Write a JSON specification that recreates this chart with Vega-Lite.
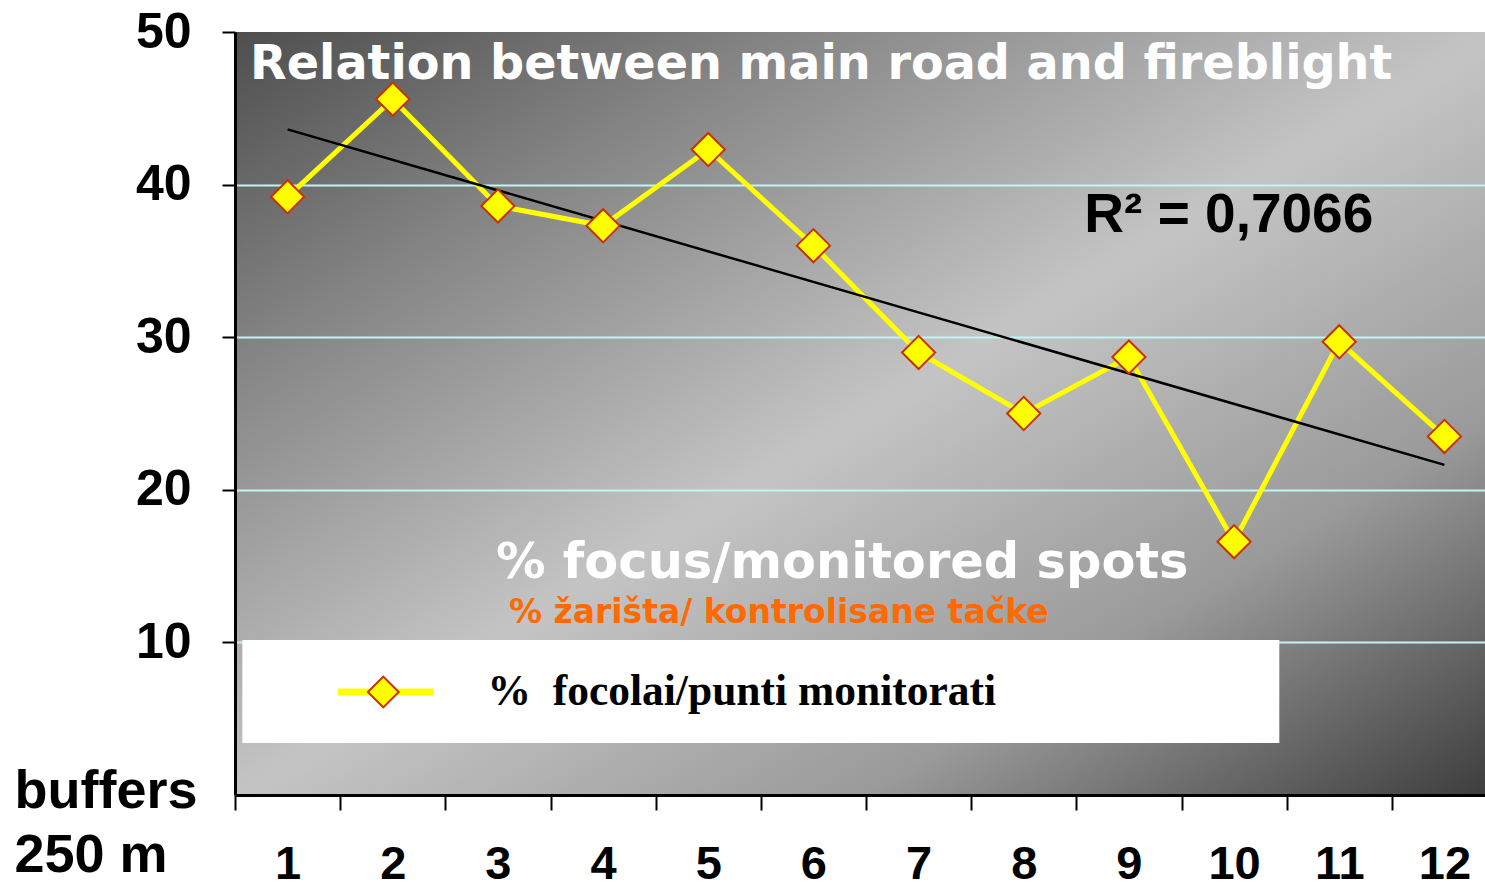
{
  "$schema": "https://vega.github.io/schema/vega-lite/v6.json",
  "width": 1262,
  "height": 763,
  "autosize": {"type": "none"},
  "padding": {"left": 235, "top": 32, "right": 0, "bottom": 93},
  "background": "white",
  "config": {
    "view": {
      "stroke": null,
      "fill": {
        "gradient": "linear",
        "x1": 0, "y1": 0, "x2": 1, "y2": 1,
        "stops": [
          {"offset": 0, "color": "#4e4e4e"},
          {"offset": 0.22, "color": "#858585"},
          {"offset": 0.5, "color": "#c4c4c4"},
          {"offset": 0.75, "color": "#9a9a9a"},
          {"offset": 1, "color": "#3c3c3c"}
        ]
      }
    }
  },
  "data": {
    "values": [
      {"buffer": 1, "pct": 39.2},
      {"buffer": 2, "pct": 45.6},
      {"buffer": 3, "pct": 38.6},
      {"buffer": 4, "pct": 37.3},
      {"buffer": 5, "pct": 42.3},
      {"buffer": 6, "pct": 36.0},
      {"buffer": 7, "pct": 29.0},
      {"buffer": 8, "pct": 25.0},
      {"buffer": 9, "pct": 28.7},
      {"buffer": 10, "pct": 16.6},
      {"buffer": 11, "pct": 29.7},
      {"buffer": 12, "pct": 23.5}
    ]
  },
  "layer": [
    {
      "mark": {"type": "line", "color": "#ffff00", "strokeWidth": 5},
      "encoding": {
        "x": {
          "field": "buffer", "type": "ordinal",
          "scale": {"type": "band", "domain": [1,2,3,4,5,6,7,8,9,10,11,12], "paddingInner": 0, "paddingOuter": 0},
          "axis": {
            "title": ["buffers", "250 m"],
            "titleFont": "Liberation Sans",
            "titleFontSize": 54,
            "titleFontWeight": "bold",
            "titleColor": "black",
            "titleAngle": 0,
            "titleAlign": "left",
            "titleBaseline": "alphabetic",
            "titleX": -221,
            "titleY": 12,
            "titleLineHeight": 64,
            "domainColor": "black",
            "domainWidth": 3,
            "tickBand": "extent",
            "tickSize": 15,
            "tickWidth": 2,
            "tickColor": "black",
            "labelFont": "Liberation Sans",
            "labelFontSize": 47,
            "labelFontWeight": "bold",
            "labelColor": "black",
            "labelAngle": 0,
            "labelPadding": 31
          }
        },
        "y": {
          "field": "pct", "type": "quantitative",
          "scale": {"domain": [0, 50], "nice": false, "zero": true},
          "axis": {
            "title": null,
            "values": [10, 20, 30, 40, 50],
            "domainColor": "black",
            "domainWidth": 3,
            "tickSize": 13,
            "tickWidth": 2,
            "tickColor": "black",
            "labelFont": "Liberation Sans",
            "labelFontSize": 50,
            "labelFontWeight": "bold",
            "labelColor": "black",
            "labelPadding": 31,
            "grid": true,
            "gridWidth": 2,
            "gridColor": {
              "condition": {"test": "datum.value == 0 || datum.value == 50", "value": "transparent"},
              "value": "#c2f4f4"
            }
          }
        }
      }
    },
    {
      "transform": [{"regression": "pct", "on": "buffer"}],
      "mark": {"type": "line", "color": "black", "strokeWidth": 2.5},
      "encoding": {
        "x": {"field": "buffer", "type": "ordinal"},
        "y": {"field": "pct", "type": "quantitative"}
      }
    },
    {
      "mark": {"type": "point", "shape": "diamond", "filled": true, "fill": "#ffff00", "stroke": "#c83200", "strokeWidth": 2, "size": 1100, "opacity": 1},
      "encoding": {
        "x": {"field": "buffer", "type": "ordinal"},
        "y": {"field": "pct", "type": "quantitative"}
      }
    },
    {
      "data": {"values": [{}]},
      "mark": {"type": "text", "text": "Relation between main road and fireblight", "font": "DejaVu Sans", "fontWeight": "bold", "fontSize": 47.7, "color": "white", "align": "left", "baseline": "alphabetic", "dx": 15},
      "encoding": {
        "x": {"datum": 1, "type": "ordinal", "bandPosition": 0},
        "y": {"datum": 46.9, "type": "quantitative"}
      }
    },
    {
      "data": {"values": [{}]},
      "mark": {"type": "text", "text": "R² = 0,7066", "font": "Liberation Sans", "fontWeight": "bold", "fontSize": 55, "color": "black", "align": "left", "baseline": "alphabetic", "dx": 8},
      "encoding": {
        "x": {"datum": 9, "type": "ordinal", "bandPosition": 0},
        "y": {"datum": 36.9, "type": "quantitative"}
      }
    },
    {
      "data": {"values": [{}]},
      "mark": {"type": "text", "text": "% focus/monitored spots", "font": "DejaVu Sans", "fontWeight": "bold", "fontSize": 49.5, "color": "white", "align": "left", "baseline": "alphabetic", "dx": -2},
      "encoding": {
        "x": {"datum": 3, "type": "ordinal"},
        "y": {"datum": 14.2, "type": "quantitative"}
      }
    },
    {
      "data": {"values": [{}]},
      "mark": {"type": "text", "text": "% žarišta/ kontrolisane tačke", "font": "DejaVu Sans", "fontWeight": "bold", "fontSize": 33, "color": "#ff6a00", "align": "left", "baseline": "alphabetic", "dx": 11},
      "encoding": {
        "x": {"datum": 3, "type": "ordinal"},
        "y": {"datum": 11.27, "type": "quantitative"}
      }
    },
    {
      "data": {"values": [{}]},
      "mark": {"type": "rect", "color": "white", "opacity": 1},
      "encoding": {
        "x": {"datum": 1, "type": "ordinal", "bandPosition": 0.07},
        "x2": {"datum": 10, "bandPosition": 0.93},
        "y": {"datum": 10.16, "type": "quantitative"},
        "y2": {"datum": 3.41}
      }
    },
    {
      "data": {"values": [{}]},
      "mark": {"type": "rule", "color": "#ffff00", "strokeWidth": 7},
      "encoding": {
        "x": {"datum": 1, "type": "ordinal", "bandPosition": 0.98},
        "x2": {"datum": 2, "bandPosition": 0.89},
        "y": {"datum": 6.75, "type": "quantitative"}
      }
    },
    {
      "data": {"values": [{}]},
      "mark": {"type": "point", "shape": "diamond", "filled": true, "fill": "#ffff00", "stroke": "#c83200", "strokeWidth": 2, "size": 950, "opacity": 1},
      "encoding": {
        "x": {"datum": 2, "type": "ordinal", "bandPosition": 0.41},
        "y": {"datum": 6.75, "type": "quantitative"}
      }
    },
    {
      "data": {"values": [{}]},
      "mark": {"type": "text", "text": "% \u00a0focolai/punti monitorati", "font": "Liberation Serif", "fontWeight": "bold", "fontSize": 43.5, "color": "black", "align": "left", "baseline": "alphabetic"},
      "encoding": {
        "x": {"datum": 3, "type": "ordinal", "bandPosition": 0.4},
        "y": {"datum": 5.9, "type": "quantitative"}
      }
    }
  ]
}
